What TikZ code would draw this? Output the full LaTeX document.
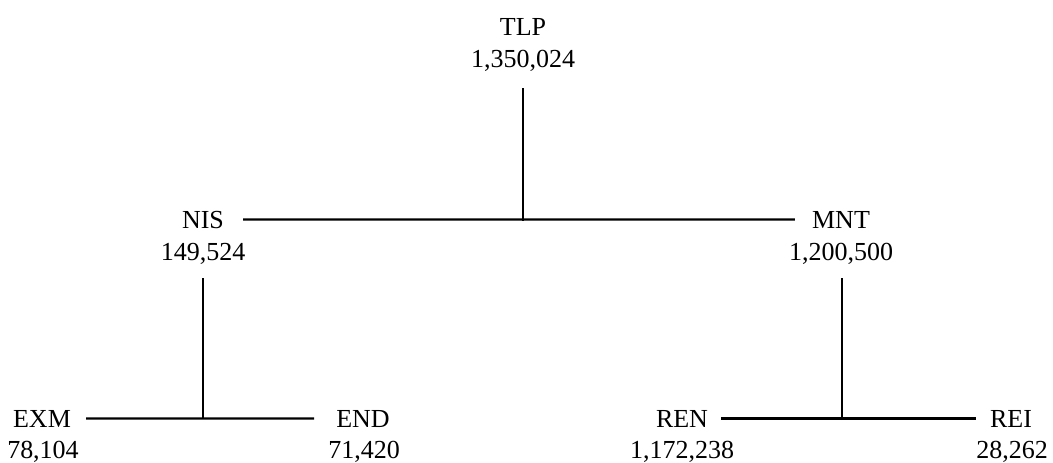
\documentclass[tikz,border=0pt]{standalone}
\usepackage{fontspec}
\setmainfont{Liberation Serif}
\begin{document}
\begin{tikzpicture}[x=1pt,y=-1pt,
  lbl/.style={anchor=base,inner sep=0pt,font=\fontsize{26}{30}\selectfont},
  conn/.style={line width=2.2pt}]
\useasboundingbox (0,0) rectangle (1053,463);
% labels
\node[lbl] (tlp) at (523,35) {TLP};
\node[lbl] (tlpv) at (523,67) {1,350,024};
\node[lbl] (nis) at (203,228) {NIS};
\node[lbl] (nisv) at (203,260) {149,524};
\node[lbl] (mnt) at (841,228) {MNT};
\node[lbl] (mntv) at (841,260) {1,200,500};
\node[lbl] (exm) at (42,427) {EXM};
\node[lbl] (exmv) at (43,458) {78,104};
\node[lbl] (end) at (363,427) {END};
\node[lbl] (endv) at (364,458) {71,420};
\node[lbl] (ren) at (682,427) {REN};
\node[lbl] (renv) at (682,458) {1,172,238};
\node[lbl] (rei) at (1011,427) {REI};
\node[lbl] (reiv) at (1012,458) {28,262};
% junctions
\coordinate (j1) at (523,221);
\coordinate (j2) at (203,419);
\coordinate (j3) at (842,419);
% connectors
\draw[conn] ([xshift=19pt]nis.east) -- ([xshift=-17pt]mnt.west);
\draw[conn] (tlpv.south |- 0,88) -- (j1);
\draw[conn] ([xshift=15pt]exm.east) -- ([xshift=-22pt]end.west);
\draw[conn] (nisv.south |- 0,278) -- (j2);
\draw[conn] ([xshift=13pt]ren.east) -- ([xshift=-14pt]rei.west);
\draw[conn] (j3 |- 0,278) -- (j3);
\end{tikzpicture}
\end{document}
